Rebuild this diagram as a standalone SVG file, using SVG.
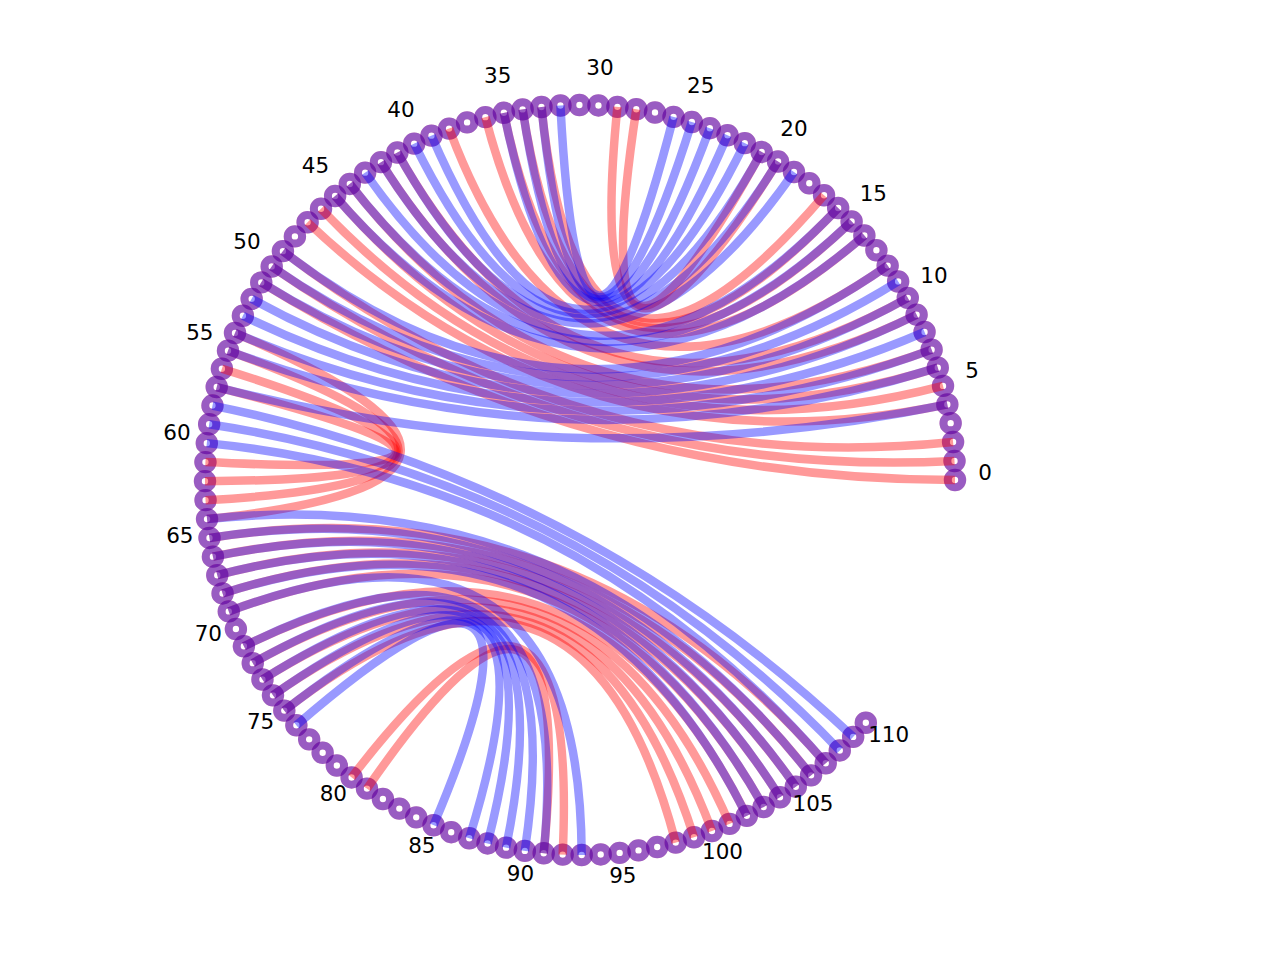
<svg xmlns="http://www.w3.org/2000/svg" width="1280" height="960" viewBox="0 0 1280 960">
<style>
.r{fill:none;stroke:#ff0000;stroke-opacity:0.4;stroke-width:8}
.b{fill:none;stroke:#0000ff;stroke-opacity:0.4;stroke-width:8}
#red path{fill:none;stroke:#ff0000;stroke-opacity:0.4;stroke-width:8.5}
#blue path{fill:none;stroke:#0000ff;stroke-opacity:0.4;stroke-width:8.5}
text{font-family:"DejaVu Sans","Liberation Sans",sans-serif;font-size:21.5px;text-anchor:middle;fill:#000}
</style>
<defs>
<g id="ring"><circle class="r" cx="0" cy="0" r="7.2"/><circle class="b" cx="0" cy="0" r="7.2"/></g>
</defs>
<rect width="1280" height="960" fill="#fff"/>
<g id="nodes">
<g id="n0"><use href="#ring" x="955" y="480"/></g>
<g id="n1"><use href="#ring" x="954.52" y="460.99"/></g>
<g id="n2"><use href="#ring" x="953.07" y="442.02"/></g>
<g id="n3"><use href="#ring" x="950.67" y="423.16"/></g>
<g id="n4"><use href="#ring" x="947.32" y="404.44"/></g>
<g id="n5"><use href="#ring" x="943.01" y="385.92"/></g>
<g id="n6"><use href="#ring" x="937.77" y="367.63"/></g>
<g id="n7"><use href="#ring" x="931.61" y="349.64"/></g>
<g id="n8"><use href="#ring" x="924.55" y="331.98"/></g>
<g id="n9"><use href="#ring" x="916.60" y="314.70"/></g>
<g id="n10"><use href="#ring" x="907.79" y="297.85"/></g>
<g id="n11"><use href="#ring" x="898.14" y="281.47"/></g>
<g id="n12"><use href="#ring" x="887.66" y="265.59"/></g>
<g id="n13"><use href="#ring" x="876.40" y="250.27"/></g>
<g id="n14"><use href="#ring" x="864.37" y="235.54"/></g>
<g id="n15"><use href="#ring" x="851.61" y="221.44"/></g>
<g id="n16"><use href="#ring" x="838.15" y="208.00"/></g>
<g id="n17"><use href="#ring" x="824.03" y="195.27"/></g>
<g id="n18"><use href="#ring" x="809.28" y="183.26"/></g>
<g id="n19"><use href="#ring" x="793.95" y="172.02"/></g>
<g id="n20"><use href="#ring" x="778.05" y="161.56"/></g>
<g id="n21"><use href="#ring" x="761.65" y="151.93"/></g>
<g id="n22"><use href="#ring" x="744.79" y="143.15"/></g>
<g id="n23"><use href="#ring" x="727.50" y="135.23"/></g>
<g id="n24"><use href="#ring" x="709.83" y="128.19"/></g>
<g id="n25"><use href="#ring" x="691.83" y="122.07"/></g>
<g id="n26"><use href="#ring" x="673.54" y="116.85"/></g>
<g id="n27"><use href="#ring" x="655.00" y="112.57"/></g>
<g id="n28"><use href="#ring" x="636.28" y="109.24"/></g>
<g id="n29"><use href="#ring" x="617.41" y="106.87"/></g>
<g id="n30"><use href="#ring" x="598.45" y="105.45"/></g>
<g id="n31"><use href="#ring" x="579.44" y="105.00"/></g>
<g id="n32"><use href="#ring" x="560.42" y="105.51"/></g>
<g id="n33"><use href="#ring" x="541.46" y="106.98"/></g>
<g id="n34"><use href="#ring" x="522.61" y="109.42"/></g>
<g id="n35"><use href="#ring" x="503.89" y="112.80"/></g>
<g id="n36"><use href="#ring" x="485.37" y="117.13"/></g>
<g id="n37"><use href="#ring" x="467.09" y="122.40"/></g>
<g id="n38"><use href="#ring" x="449.11" y="128.58"/></g>
<g id="n39"><use href="#ring" x="431.47" y="135.67"/></g>
<g id="n40"><use href="#ring" x="414.20" y="143.65"/></g>
<g id="n41"><use href="#ring" x="397.36" y="152.48"/></g>
<g id="n42"><use href="#ring" x="380.99" y="162.16"/></g>
<g id="n43"><use href="#ring" x="365.13" y="172.66"/></g>
<g id="n44"><use href="#ring" x="349.83" y="183.95"/></g>
<g id="n45"><use href="#ring" x="335.12" y="196.00"/></g>
<g id="n46"><use href="#ring" x="321.03" y="208.78"/></g>
<g id="n47"><use href="#ring" x="307.61" y="222.25"/></g>
<g id="n48"><use href="#ring" x="294.90" y="236.40"/></g>
<g id="n49"><use href="#ring" x="282.92" y="251.16"/></g>
<g id="n50"><use href="#ring" x="271.70" y="266.52"/></g>
<g id="n51"><use href="#ring" x="261.26" y="282.42"/></g>
<g id="n52"><use href="#ring" x="251.66" y="298.84"/></g>
<g id="n53"><use href="#ring" x="242.90" y="315.72"/></g>
<g id="n54"><use href="#ring" x="235.01" y="333.02"/></g>
<g id="n55"><use href="#ring" x="227.99" y="350.70"/></g>
<g id="n56"><use href="#ring" x="221.90" y="368.71"/></g>
<g id="n57"><use href="#ring" x="216.71" y="387.01"/></g>
<g id="n58"><use href="#ring" x="212.47" y="405.55"/></g>
<g id="n59"><use href="#ring" x="209.16" y="424.27"/></g>
<g id="n60"><use href="#ring" x="206.81" y="443.14"/></g>
<g id="n61"><use href="#ring" x="205.43" y="462.11"/></g>
<g id="n62"><use href="#ring" x="205.00" y="481.13"/></g>
<g id="n63"><use href="#ring" x="205.54" y="500.14"/></g>
<g id="n64"><use href="#ring" x="207.04" y="519.09"/></g>
<g id="n65"><use href="#ring" x="209.50" y="537.95"/></g>
<g id="n66"><use href="#ring" x="212.92" y="556.66"/></g>
<g id="n67"><use href="#ring" x="217.27" y="575.18"/></g>
<g id="n68"><use href="#ring" x="222.57" y="593.44"/></g>
<g id="n69"><use href="#ring" x="228.78" y="611.42"/></g>
<g id="n70"><use href="#ring" x="235.90" y="629.05"/></g>
<g id="n71"><use href="#ring" x="243.89" y="646.31"/></g>
<g id="n72"><use href="#ring" x="252.76" y="663.13"/></g>
<g id="n73"><use href="#ring" x="262.46" y="679.49"/></g>
<g id="n74"><use href="#ring" x="272.98" y="695.33"/></g>
<g id="n75"><use href="#ring" x="284.29" y="710.61"/></g>
<g id="n76"><use href="#ring" x="296.36" y="725.31"/></g>
<g id="n77"><use href="#ring" x="309.17" y="739.37"/></g>
<g id="n78"><use href="#ring" x="322.66" y="752.77"/></g>
<g id="n79"><use href="#ring" x="336.83" y="765.47"/></g>
<g id="n80"><use href="#ring" x="351.61" y="777.43"/></g>
<g id="n81"><use href="#ring" x="366.98" y="788.62"/></g>
<g id="n82"><use href="#ring" x="382.90" y="799.03"/></g>
<g id="n83"><use href="#ring" x="399.33" y="808.61"/></g>
<g id="n84"><use href="#ring" x="416.22" y="817.35"/></g>
<g id="n85"><use href="#ring" x="433.54" y="825.21"/></g>
<g id="n86"><use href="#ring" x="451.22" y="832.20"/></g>
<g id="n87"><use href="#ring" x="469.25" y="838.27"/></g>
<g id="n88"><use href="#ring" x="487.55" y="843.43"/></g>
<g id="n89"><use href="#ring" x="506.09" y="847.65"/></g>
<g id="n90"><use href="#ring" x="524.83" y="850.92"/></g>
<g id="n91"><use href="#ring" x="543.70" y="853.24"/></g>
<g id="n92"><use href="#ring" x="562.67" y="854.60"/></g>
<g id="n93"><use href="#ring" x="581.69" y="855.00"/></g>
<g id="n94"><use href="#ring" x="600.70" y="854.43"/></g>
<g id="n95"><use href="#ring" x="619.66" y="852.90"/></g>
<g id="n96"><use href="#ring" x="638.51" y="850.41"/></g>
<g id="n97"><use href="#ring" x="657.21" y="846.97"/></g>
<g id="n98"><use href="#ring" x="675.72" y="842.58"/></g>
<g id="n99"><use href="#ring" x="693.98" y="837.26"/></g>
<g id="n100"><use href="#ring" x="711.94" y="831.02"/></g>
<g id="n101"><use href="#ring" x="729.57" y="823.88"/></g>
<g id="n102"><use href="#ring" x="746.81" y="815.86"/></g>
<g id="n103"><use href="#ring" x="763.62" y="806.97"/></g>
<g id="n104"><use href="#ring" x="779.96" y="797.24"/></g>
<g id="n105"><use href="#ring" x="795.79" y="786.69"/></g>
<g id="n106"><use href="#ring" x="811.06" y="775.36"/></g>
<g id="n107"><use href="#ring" x="825.74" y="763.26"/></g>
<g id="n108"><use href="#ring" x="839.78" y="750.44"/></g>
<g id="n109"><use href="#ring" x="853.15" y="736.91"/></g>
<g id="n110"><use href="#ring" x="865.83" y="722.75"/></g>
</g>
<g id="connectors">
<g id="red">
<path d="M955 480Q580 480 261.26 282.42"/>
<path d="M954.52 460.99Q580 480 271.70 266.52"/>
<path d="M953.07 442.02Q580 480 282.92 251.16"/>
<path d="M947.32 404.44Q580 480 307.61 222.25"/>
<path d="M943.01 385.92Q580 480 321.03 208.78"/>
<path d="M937.77 367.63Q580 480 335.12 196.00"/>
<path d="M931.61 349.64Q580 480 349.83 183.95"/>
<path d="M916.60 314.70Q580 480 380.99 162.16"/>
<path d="M907.79 297.85Q580 480 397.36 152.48"/>
<path d="M887.66 265.59Q580 480 449.11 128.58"/>
<path d="M864.37 235.54Q580 480 485.37 117.13"/>
<path d="M851.61 221.44Q580 480 503.89 112.80"/>
<path d="M838.15 208.00Q580 480 522.61 109.42"/>
<path d="M824.03 195.27Q580 480 541.46 106.98"/>
<path d="M778.05 161.56Q580 480 617.41 106.87"/>
<path d="M761.65 151.93Q580 480 636.28 109.24"/>
<path d="M235.01 333.02Q580 480 207.04 519.09"/>
<path d="M227.99 350.70Q580 480 205.54 500.14"/>
<path d="M221.90 368.71Q580 480 205.00 481.13"/>
<path d="M216.71 387.01Q580 480 205.43 462.11"/>
<path d="M209.50 537.95Q580 480 825.74 763.26"/>
<path d="M212.92 556.66Q580 480 811.06 775.36"/>
<path d="M217.27 575.18Q580 480 795.79 786.69"/>
<path d="M222.57 593.44Q580 480 779.96 797.24"/>
<path d="M228.78 611.42Q580 480 763.62 806.97"/>
<path d="M243.89 646.31Q580 480 746.81 815.86"/>
<path d="M252.76 663.13Q580 480 729.57 823.88"/>
<path d="M262.46 679.49Q580 480 711.94 831.02"/>
<path d="M272.98 695.33Q580 480 693.98 837.26"/>
<path d="M284.29 710.61Q580 480 675.72 842.58"/>
<path d="M351.61 777.43Q580 480 562.67 854.60"/>
<path d="M366.98 788.62Q580 480 543.70 853.24"/>
</g>
<g id="blue">
<path d="M947.32 404.44Q580 480 216.71 387.01"/>
<path d="M937.77 367.63Q580 480 227.99 350.70"/>
<path d="M931.61 349.64Q580 480 235.01 333.02"/>
<path d="M924.55 331.98Q580 480 242.90 315.72"/>
<path d="M916.60 314.70Q580 480 251.66 298.84"/>
<path d="M907.79 297.85Q580 480 261.26 282.42"/>
<path d="M898.14 281.47Q580 480 271.70 266.52"/>
<path d="M887.66 265.59Q580 480 282.92 251.16"/>
<path d="M864.37 235.54Q580 480 335.12 196.00"/>
<path d="M851.61 221.44Q580 480 349.83 183.95"/>
<path d="M838.15 208.00Q580 480 365.13 172.66"/>
<path d="M793.95 172.02Q580 480 380.99 162.16"/>
<path d="M778.05 161.56Q580 480 397.36 152.48"/>
<path d="M761.65 151.93Q580 480 414.20 143.65"/>
<path d="M744.79 143.15Q580 480 431.47 135.67"/>
<path d="M727.50 135.23Q580 480 503.89 112.80"/>
<path d="M709.83 128.19Q580 480 522.61 109.42"/>
<path d="M691.83 122.07Q580 480 541.46 106.98"/>
<path d="M673.54 116.85Q580 480 560.42 105.51"/>
<path d="M212.47 405.55Q580 480 853.15 736.91"/>
<path d="M209.16 424.27Q580 480 839.78 750.44"/>
<path d="M206.81 443.14Q580 480 825.74 763.26"/>
<path d="M207.04 519.09Q580 480 811.06 775.36"/>
<path d="M209.50 537.95Q580 480 795.79 786.69"/>
<path d="M212.92 556.66Q580 480 779.96 797.24"/>
<path d="M217.27 575.18Q580 480 763.62 806.97"/>
<path d="M222.57 593.44Q580 480 746.81 815.86"/>
<path d="M228.78 611.42Q580 480 581.69 855.00"/>
<path d="M243.89 646.31Q580 480 543.70 853.24"/>
<path d="M252.76 663.13Q580 480 524.83 850.92"/>
<path d="M262.46 679.49Q580 480 506.09 847.65"/>
<path d="M272.98 695.33Q580 480 487.55 843.43"/>
<path d="M284.29 710.61Q580 480 469.25 838.27"/>
<path d="M296.36 725.31Q580 480 433.54 825.21"/>
</g>
</g>
<g id="labels">
<text x="985" y="480">0</text>
<text x="972.05" y="378.39">5</text>
<text x="934.01" y="283.28">10</text>
<text x="873.34" y="200.76">15</text>
<text x="793.89" y="136.08">20</text>
<text x="700.78" y="93.44">25</text>
<text x="599.93" y="75.49">30</text>
<text x="497.80" y="83.42">35</text>
<text x="400.94" y="116.74">40</text>
<text x="315.53" y="173.28">45</text>
<text x="247.04" y="249.44">50</text>
<text x="199.83" y="340.36">55</text>
<text x="176.95" y="440.19">60</text>
<text x="179.86" y="542.59">65</text>
<text x="208.37" y="640.97">70</text>
<text x="260.63" y="729.06">75</text>
<text x="333.34" y="801.22">80</text>
<text x="421.82" y="852.83">85</text>
<text x="520.42" y="880.59">90</text>
<text x="622.83" y="882.73">95</text>
<text x="722.50" y="859.10">100</text>
<text x="813.05" y="811.23">105</text>
<text x="888.70" y="742.17">110</text>
</g>
</svg>
